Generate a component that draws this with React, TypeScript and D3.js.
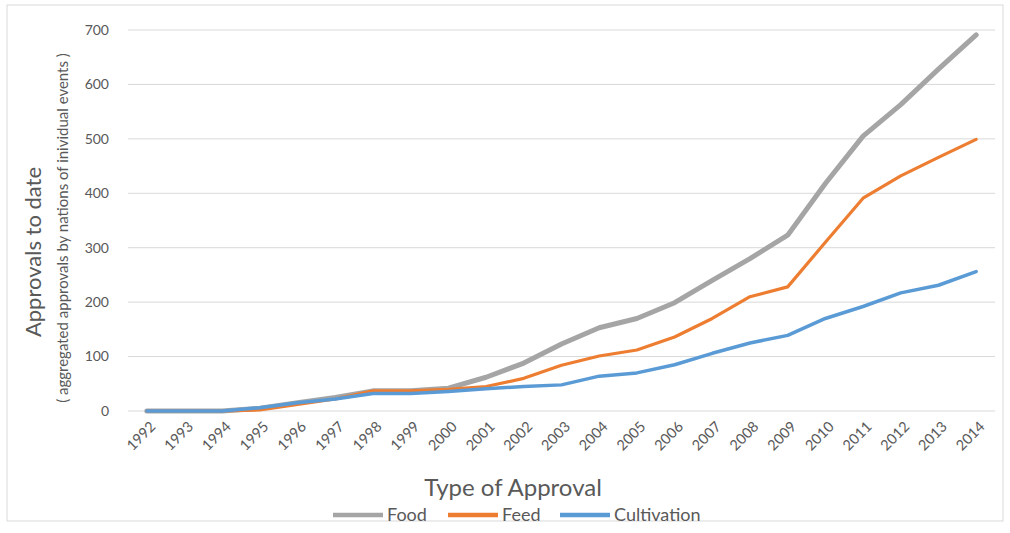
import React from "react";
import * as d3 from "d3";

const years = ["1992","1993","1994","1995","1996","1997","1998","1999","2000","2001","2002","2003","2004","2005","2006","2007","2008","2009","2010","2011","2012","2013","2014"];
const food = [0, 0, 0, 5, 15, 25, 37, 37, 42, 62, 88, 123, 153, 170, 199, 240, 280, 323, 418, 505, 563, 628, 691];
const feed = [0, 0, 0, 2, 12, 22, 37, 37, 40, 45, 60, 84, 101, 112, 136, 170, 210, 228, 310, 391, 432, 466, 499];
const cultivation = [0, 0, 0, 6, 15, 22, 32, 32, 36, 41, 45, 48, 64, 70, 85, 106, 125, 139, 170, 192, 217, 231, 256];
const yTicks = [0, 100, 200, 300, 400, 500, 600, 700];

const series = [
  { name: "Food", values: food, color: "#A5A5A5", width: 5 },
  { name: "Feed", values: feed, color: "#ED7D31", width: 3.2 },
  { name: "Cultivation", values: cultivation, color: "#5B9BD5", width: 3.5 },
];

const W = 1010;
const H = 533;
const plot = { left: 128, right: 995, top: 30, bottom: 411 };
const font = "Lato, 'Open Sans', sans-serif";

export default function App() {
  const x = d3.scaleBand<string>().domain(years).range([plot.left, plot.right]);
  const y = d3.scaleLinear().domain([0, 700]).range([plot.bottom, plot.top]);
  const cx = (yr: string) => (x(yr) ?? 0) + x.bandwidth() / 2;

  const line = d3
    .line<number>()
    .x((_, i) => cx(years[i]))
    .y((d) => y(d));

  // legend swatch starts
  const legendX = [333, 448, 560];

  return (
    <svg width={W} height={H} style={{ position: "absolute", left: 0, top: 0, background: "#fff" }}>
      <rect x={7} y={5} width={996} height={516} fill="#fff" stroke="#D9D9D9" strokeWidth={1} />
      {/* gridlines */}
      {yTicks.map((t) => (
        <line key={t} x1={plot.left} x2={plot.right} y1={y(t)} y2={y(t)} stroke="#D9D9D9" strokeWidth={1} />
      ))}
      {/* y tick labels */}
      {yTicks.map((t) => (
        <text key={"l" + t} x={109} y={y(t)} dy="0.35em" textAnchor="end" fontFamily={font} fontSize={14} fill="#595959">
          {t}
        </text>
      ))}
      {/* x tick labels */}
      {years.map((yr) => (
        <text
          key={yr}
          transform={`translate(${cx(yr) + 6},${plot.bottom + 13}) rotate(-45)`}
          textAnchor="end"
          dy="0.35em"
          fontFamily={font}
          fontSize={14.5}
          fill="#595959"
        >
          {yr}
        </text>
      ))}
      {/* lines */}
      {series.map((s) => (
        <path
          key={s.name}
          d={line(s.values) ?? ""}
          fill="none"
          stroke={s.color}
          strokeWidth={s.width}
          strokeLinejoin="round"
          strokeLinecap="round"
        />
      ))}
      {/* axis titles */}
      <text transform="translate(41,252) rotate(-90)" textAnchor="middle" fontFamily={font} fontSize={22} fill="#595959">
        Approvals to date
      </text>
      <text transform="translate(68,228) rotate(-90)" textAnchor="middle" fontFamily={font} fontSize={15} fill="#595959">
        ( aggregated approvals by nations of inividual events )
      </text>
      <text x={513} y={496} textAnchor="middle" fontFamily={font} fontSize={24} fill="#595959">
        Type of Approval
      </text>
      {/* legend */}
      {series.map((s, i) => (
        <g key={"lg" + s.name}>
          <line x1={legendX[i]} x2={legendX[i] + 50} y1={515} y2={515} stroke={s.color} strokeWidth={4.5} />
          <text x={legendX[i] + 54} y={515} dy="0.35em" fontFamily={font} fontSize={18} fill="#595959">
            {s.name}
          </text>
        </g>
      ))}
    </svg>
  );
}
